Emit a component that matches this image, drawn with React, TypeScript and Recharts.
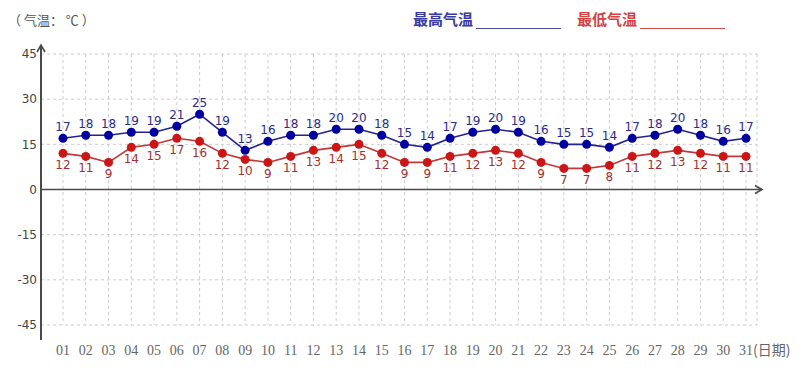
import React from 'react';
import { LineChart, Line, XAxis, YAxis, CartesianGrid, ReferenceLine, LabelList } from 'recharts';

const days = ['01','02','03','04','05','06','07','08','09','10','11','12','13','14','15','16','17','18','19','20','21','22','23','24','25','26','27','28','29','30','31'];
const highTemps = [17,18,18,19,19,21,25,19,13,16,18,18,20,20,18,15,14,17,19,20,19,16,15,15,14,17,18,20,18,16,17];
const lowTemps = [12,11,9,14,15,17,16,12,10,9,11,13,14,15,12,9,9,11,12,13,12,9,7,7,8,11,12,13,12,11,11];
const yTicks = [-45,-30,-15,0,15,30,45];
const titleText = '（ 气温： ℃ ）';
const highName = '最高气温';
const lowName = '最低气温';
const xUnit = '(日期)';

const data = days.map((d, i) => ({ day: d, high: highTemps[i], low: lowTemps[i] }));

const AXIS = '#4a4a4a';
const HIGH_LINE = '#23238f';
const HIGH_DOT = '#0000a0';
const HIGH_LABEL = '#2b2b8c';
const LOW_LINE = '#c03838';
const LOW_DOT = '#cc1616';
const LOW_LABEL = '#a03232';

const XTick = (props: any) => {
  const { x, y, payload, index } = props;
  const last = index === days.length - 1;
  return (
    <g>
      <text x={x} y={y + 30} textAnchor="middle" fontFamily="Liberation Serif" fontSize={14} fill="#666">{payload.value}</text>
      {last && (
        <text x={x + 7} y={y + 30} textAnchor="start" fontFamily="Noto Sans CJK SC" fontSize={14} fill="#666">{xUnit}</text>
      )}
    </g>
  );
};

const XAxisArrow = (props: any) => {
  const { x1, y1, x2 } = props;
  const end = x2 + 5;
  return (
    <g>
      <line x1={x1} y1={y1} x2={end} y2={y1} stroke={AXIS} strokeWidth={1.6} />
      <path d={`M${end - 7},${y1 - 4} L${end},${y1} L${end - 7},${y1 + 4}`} fill="none" stroke={AXIS} strokeWidth={1.6} />
    </g>
  );
};

const YAxisTop = (props: any) => {
  const { x1, y1 } = props;
  const top = y1 - 9;
  return (
    <g>
      <line x1={x1} y1={y1} x2={x1} y2={top} stroke={AXIS} strokeWidth={2} />
      <path d={`M${x1 - 4},${top + 7} L${x1},${top} L${x1 + 4},${top + 7}`} fill="none" stroke={AXIS} strokeWidth={1.6} />
    </g>
  );
};

const YAxisBottom = (props: any) => {
  const { x1, y1 } = props;
  return <line x1={x1} y1={y1} x2={x1} y2={y1 + 15} stroke={AXIS} strokeWidth={2} />;
};

export default function App() {
  return (
    <div style={{ position: 'absolute', left: 0, top: 0, width: 800, height: 380, background: '#fff' }}>
      <div style={{ position: 'absolute', left: 8, top: 10, fontFamily: 'Noto Sans CJK SC', fontSize: 13, color: '#555', lineHeight: '20px', whiteSpace: 'pre' }}>
        {titleText}
      </div>
      <div style={{ position: 'absolute', left: 413, top: 9, display: 'flex', alignItems: 'flex-end', fontFamily: 'Noto Sans CJK SC', fontSize: 15, fontWeight: 700, lineHeight: '20px' }}>
        <span style={{ color: '#3a3aa0' }}>{highName}</span>
        <span style={{ display: 'inline-block', width: 85, marginLeft: 3, borderBottom: '1.5px solid #4a4aa8', height: 17 }} />
        <span style={{ color: '#d04444', marginLeft: 16 }}>{lowName}</span>
        <span style={{ display: 'inline-block', width: 85, marginLeft: 3, borderBottom: '1.5px solid #d05050', height: 17 }} />
      </div>
      <LineChart width={800} height={380} data={data} margin={{ top: 54, right: 43, bottom: 25, left: 0 }}>
        <CartesianGrid stroke="#cccccc" strokeDasharray="3 3" />
        <XAxis
          dataKey="day"
          padding={{ left: 22, right: 11 }}
          axisLine={false}
          tickLine={false}
          tickSize={0}
          tickMargin={0}
          height={30}
          interval={0}
          tick={<XTick />}
        />
        <YAxis
          domain={[-45, 45]}
          ticks={yTicks}
          width={41}
          axisLine={{ stroke: AXIS, strokeWidth: 2 }}
          tickLine={false}
          tickSize={0}
          tickMargin={4}
          tick={{ fontFamily: 'DejaVu Sans', fontSize: 12, fill: '#444' }}
        />
        <ReferenceLine y={0} shape={<XAxisArrow />} />
        <ReferenceLine y={45} shape={<YAxisTop />} />
        <ReferenceLine y={-45} shape={<YAxisBottom />} />
        <Line
          dataKey="high"
          stroke={HIGH_LINE}
          strokeWidth={1.6}
          dot={{ r: 4.5, fill: HIGH_DOT, stroke: HIGH_DOT, strokeWidth: 0 }}
          isAnimationActive={false}
        >
          <LabelList dataKey="high" position="top" offset={7} fill={HIGH_LABEL} fontFamily="DejaVu Sans" fontSize={12} />
        </Line>
        <Line
          dataKey="low"
          stroke={LOW_LINE}
          strokeWidth={1.6}
          dot={{ r: 4.5, fill: LOW_DOT, stroke: LOW_DOT, strokeWidth: 0 }}
          isAnimationActive={false}
        >
          <LabelList dataKey="low" position="bottom" offset={7} fill={LOW_LABEL} fontFamily="DejaVu Sans" fontSize={12} />
        </Line>
      </LineChart>
    </div>
  );
}
